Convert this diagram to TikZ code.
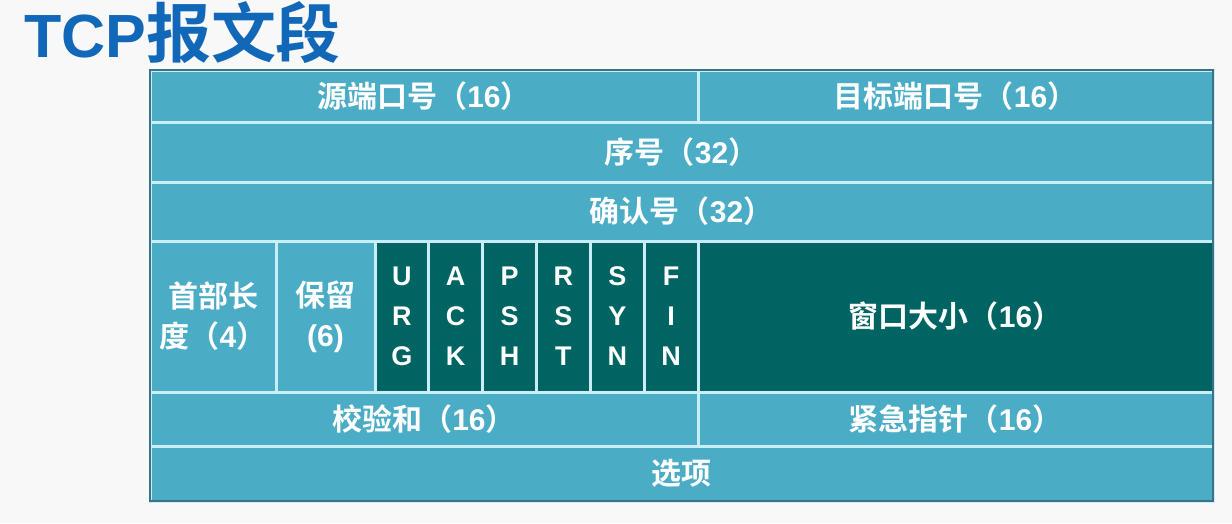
\documentclass[tikz,border=0pt]{standalone}
\usepackage{fontspec}
\setmainfont{Liberation Sans}
\newfontfamily\cjk{Noto Sans CJK SC}[BoldFont={Noto Sans CJK SC Bold}]
\newcommand\zh[1]{{\cjk #1}}
\definecolor{cellblue}{HTML}{4BACC6}
\definecolor{celldark}{HTML}{006462}
\definecolor{cellrule}{HTML}{C8EEF8}
\definecolor{frameline}{HTML}{3B7285}
\definecolor{titleblue}{HTML}{1268B8}
\definecolor{paper}{HTML}{F8F8F8}

\begin{document}
\begin{tikzpicture}[x=1pt, y=-1pt,
  every node/.style={inner sep=0pt, outer sep=0pt},
  field/.style={fill=cellblue, draw=cellrule, line width=3pt, text=white,
    align=center, font=\bfseries\fontsize{30}{40}\selectfont},
  flagbox/.style={field, fill=celldark, minimum width=53.8pt, minimum height=151pt,
    font=\bfseries\fontsize{27}{40}\selectfont}]
\fill[paper] (0,0) rectangle (1232,523);
\useasboundingbox (0,0) rectangle (1232,523);

\node[anchor=base west, text=titleblue, font=\bfseries\fontsize{61}{61}\selectfont] (title) at (24,57) {TCP\zh{\fontsize{65}{65}\selectfont 报文段}};

\node[field, minimum width=548pt, minimum height=52pt] (src) at (424,96) {\zh{源端口号（}16\zh{）}};
\node[field, minimum width=515pt, minimum height=52pt] (dst) at (955.5,96) {\zh{目标端口号（}16\zh{）}};
\node[field, minimum width=1063pt, minimum height=60pt] (seq) at (681.5,152) {\zh{序号（}32\zh{）}};
\node[field, minimum width=1063pt, minimum height=59pt] (ack) at (681.5,211.5) {\zh{确认号（}32\zh{）}};

\node[field, minimum width=126pt, minimum height=151pt] (hlen) at (213,316.5) {\zh{首部长}\\\zh{度（}4\zh{）}};
\node[field, minimum width=99pt, minimum height=151pt] (rsv) at (325.5,316.5) {\zh{保留}\\(6)};
\node[flagbox] (urg) at (401.9,316.5) {U\\R\\G};
\node[flagbox] (ackf) at (455.7,316.5) {A\\C\\K};
\node[flagbox] (psh) at (509.6,316.5) {P\\S\\H};
\node[flagbox] (rst) at (563.4,316.5) {R\\S\\T};
\node[flagbox] (syn) at (617.3,316.5) {S\\Y\\N};
\node[flagbox] (fin) at (671.1,316.5) {F\\I\\N};
\node[field, fill=celldark, minimum width=515pt, minimum height=151pt] (win) at (955.5,316.5) {\zh{窗口大小（}16\zh{）}};

\node[field, minimum width=548pt, minimum height=54pt] (chk) at (424,419) {\zh{校验和（}16\zh{）}};
\node[field, minimum width=515pt, minimum height=54pt] (urp) at (955.5,419) {\zh{紧急指针（}16\zh{）}};
\node[field, minimum width=1063pt, minimum height=55pt] (opt) at (681.5,473.5) {\zh{选项}};

\draw[frameline, line width=1.5pt] (src.north west) rectangle (opt.south east);
\end{tikzpicture}
\end{document}
